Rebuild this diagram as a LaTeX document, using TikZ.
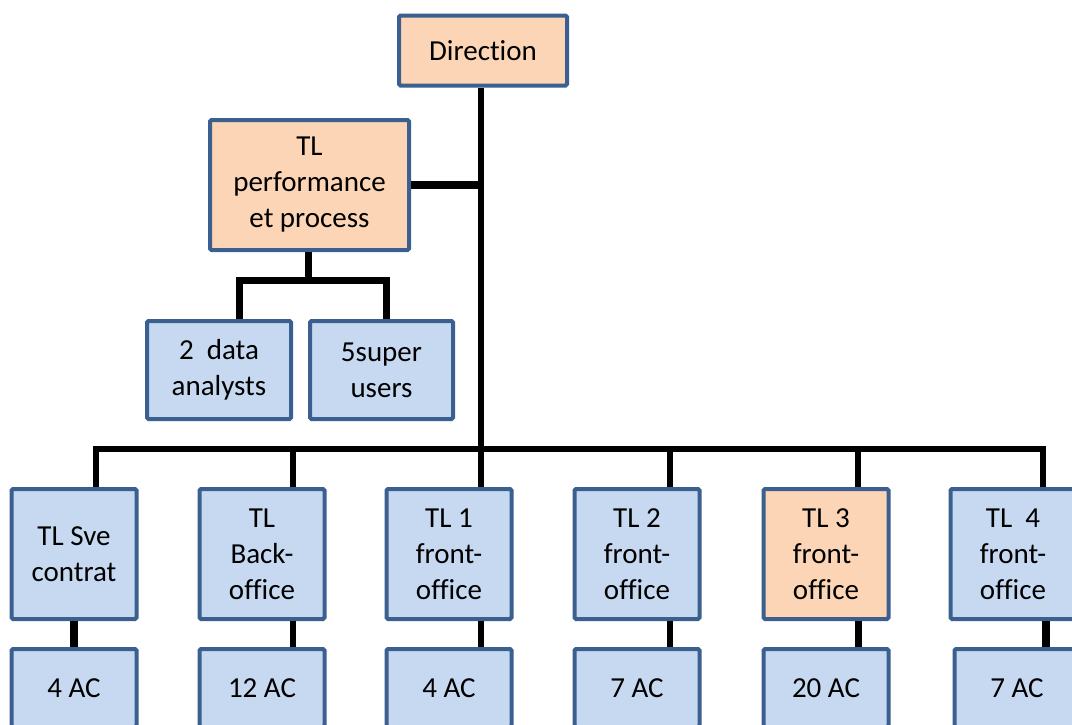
\documentclass[tikz,border=0pt]{standalone}
\usepackage{fontspec}
\setmainfont{Carlito}[Ligatures=NoCommon]
\definecolor{boxorange}{HTML}{FBD5B5}
\definecolor{boxblue}{HTML}{C6D9F1}
\definecolor{boxline}{HTML}{3B6090}
\begin{document}
\begin{tikzpicture}[x=1pt,y=-1pt,
  box/.style={draw=boxline, line width=4pt, rounded corners=1.5pt, align=center,
    inner sep=0pt, font=\fontsize{29}{36}\selectfont, text=black},
  orangebox/.style={box, fill=boxorange},
  bluebox/.style={box, fill=boxblue},
  rowbox/.style={minimum width=125pt, minimum height=130pt},
  acbox/.style={bluebox, minimum width=125pt, minimum height=78pt},
  conn/.style={draw=black, line width=5.5pt},
  drop/.style={draw=black, line width=6pt},
  heavy/.style={draw=black, line width=8.5pt}]
\useasboundingbox (0,0) rectangle (1072,724);
\clip (0,0) rectangle (1072,724);
\fill[white] (0,0) rectangle (1072,724);

% nodes
\node[orangebox, minimum width=168pt, minimum height=70pt] (dir) at (483,50.5) {Direction};
\node[orangebox, minimum width=199pt, minimum height=130pt] (perf) at (309.5,185) {TL\\performance\\et process};
\node[bluebox, minimum width=144pt, minimum height=98pt] (da) at (219,370) {2\ \ data\\analysts};
\node[bluebox, minimum width=143pt, minimum height=98pt] (su) at (381.5,370) {5super\\users};

\node[bluebox, rowbox] (sve) at (74,554) {TL Sve\\contrat};
\node[bluebox, rowbox] (back) at (262,554) {TL\\Back-\\office};
\node[bluebox, rowbox] (t1) at (449,554) {TL 1\\front-\\office};
\node[bluebox, rowbox] (t2) at (637,554) {TL 2\\front-\\office};
\node[orangebox, rowbox] (t3) at (826,554) {TL 3\\front-\\office};
\node[bluebox, rowbox] (t4) at (1013,554) {TL\ \ 4\\front-\\office};

\node[acbox] (ac1) at (74,688) {4 AC};
\node[acbox] (ac2) at (262,688) {12 AC};
\node[acbox] (ac3) at (449,688) {4 AC};
\node[acbox] (ac4) at (637,688) {7 AC};
\node[acbox] (ac5) at (826,688) {20 AC};
\node[acbox] (ac6) at (1017,688) {7 AC};

% junction coordinates
\coordinate (bus) at (481,449);
\coordinate (pj) at (308,280);

% trunk from Direction
\draw[conn] ([xshift=-2pt]dir.south) -- ([xshift=32pt]t1.north);
% TL performance link
\draw[heavy] (perf.east) -- (perf.east -| bus);
% bus
\draw[conn] ([xshift=22pt]sve.north) |- (bus) -| ([xshift=30pt]t4.north);
\draw[drop] ([xshift=22pt]sve.north) -- ([xshift=22pt]sve.north |- bus);
\draw[drop] ([xshift=31pt]back.north) -- ([xshift=31pt]back.north |- bus);
\draw[drop] ([xshift=33pt]t2.north) -- ([xshift=33pt]t2.north |- bus);
\draw[drop] ([xshift=32pt]t3.north) -- ([xshift=32pt]t3.north |- bus);
\draw[drop] ([xshift=30pt]t4.north) -- ([xshift=30pt]t4.north |- bus);

% under TL performance
\draw[heavy, line width=7pt] ([xshift=-1.5pt]perf.south) -- (pj);
\draw[heavy, line width=7pt] ([xshift=20pt]da.north) |- (pj) -| ([xshift=4.5pt]su.north);

% lower connectors
\draw[heavy] (sve.south) -- (ac1.north);
\draw[drop] ([xshift=31pt]back.south) -- ([xshift=31pt]ac2.north);
\draw[drop] ([xshift=32pt]t1.south) -- ([xshift=32pt]ac3.north);
\draw[drop] ([xshift=33pt]t2.south) -- ([xshift=33pt]ac4.north);
\draw[heavy, line width=7pt] ([xshift=32pt]t3.south) -- ([xshift=32pt]ac5.north);
\draw[heavy] ([xshift=33pt]t4.south) -- ([xshift=29pt]ac6.north);
\end{tikzpicture}
\end{document}
